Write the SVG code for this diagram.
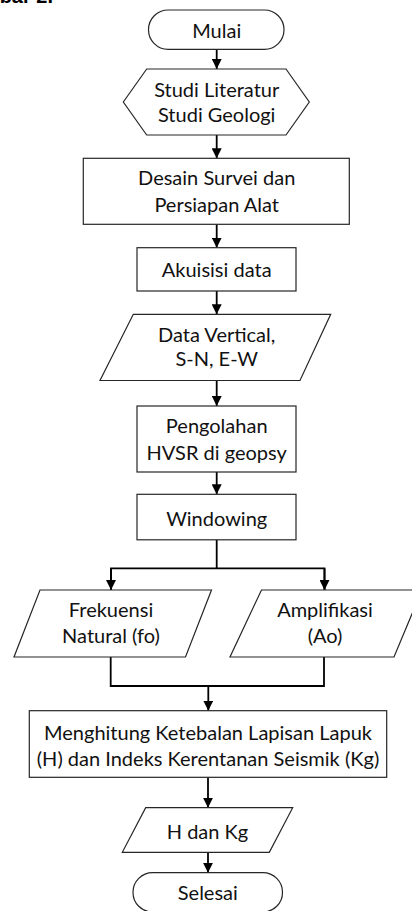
<svg xmlns="http://www.w3.org/2000/svg" width="412" height="911" viewBox="0 0 412 911">
<style>
.s{fill:#fff;stroke:#262626;stroke-width:1.2}
.t{font-family:Lato,"Liberation Sans",sans-serif;font-size:20px;fill:#111;text-anchor:middle}
.c{fill:none;stroke:#000;stroke-width:1.8}
</style>
<defs>
<marker id="ah" markerUnits="userSpaceOnUse" markerWidth="10" markerHeight="10" refX="10" refY="5" orient="auto" viewBox="0 0 10 10">
<path d="M0,0 L10,5 L0,10 z" fill="#000"/>
</marker>
</defs>
<rect width="412" height="911" fill="#fff"/>
<text x="53" y="2.5" style="font-family:'Liberation Sans',sans-serif;font-size:20px;font-weight:bold;text-anchor:end" fill="#000">Gambar 2.</text>

<g id="connectors">
<line class="c" x1="216.7" y1="49.5" x2="216.7" y2="69" marker-end="url(#ah)"/>
<line class="c" x1="216.7" y1="135" x2="216.7" y2="158.3" marker-end="url(#ah)"/>
<line class="c" x1="216.7" y1="224.3" x2="216.7" y2="247.7" marker-end="url(#ah)"/>
<line class="c" x1="216.7" y1="291" x2="216.7" y2="314.3" marker-end="url(#ah)"/>
<line class="c" x1="216.7" y1="380.5" x2="216.7" y2="406" marker-end="url(#ah)"/>
<line class="c" x1="216.7" y1="472" x2="216.7" y2="494.3" marker-end="url(#ah)"/>
<polyline class="c" points="216.7,540 216.7,568.3"/>
<polyline class="c" points="111,590 111,568.3 324.5,568.3 324.5,590"/>
<line class="c" x1="111" y1="568.3" x2="111" y2="590" marker-end="url(#ah)"/>
<line class="c" x1="324.5" y1="568.3" x2="324.5" y2="590" marker-end="url(#ah)"/>
<polyline class="c" points="110.7,657 110.7,686 324,686 324,657"/>
<line class="c" x1="208.3" y1="686" x2="208.3" y2="710.7" marker-end="url(#ah)"/>
<line class="c" x1="208" y1="777.3" x2="208" y2="807.7" marker-end="url(#ah)"/>
<line class="c" x1="208" y1="852.3" x2="208" y2="872.7" marker-end="url(#ah)"/>
</g>

<g id="mulai">
<rect class="s" x="148.5" y="10" width="135.5" height="39.3" rx="19.6"/>
<text class="t" x="216.7" y="38.3">Mulai</text>
</g>

<g id="studi">
<polygon class="s" points="123.3,102 146.7,69 286,69 309.3,102 286,135 146.7,135"/>
<text class="t" x="216.7" y="96.5">Studi Literatur</text>
<text class="t" x="216.7" y="122">Studi Geologi</text>
</g>

<g id="desain">
<rect class="s" x="83.3" y="158.3" width="266" height="66"/>
<text class="t" x="216.7" y="185">Desain Survei dan</text>
<text class="t" x="216.7" y="211.7">Persiapan Alat</text>
</g>

<g id="akuisisi">
<rect class="s" x="137" y="247.7" width="159" height="43.3"/>
<text class="t" x="216.7" y="277">Akuisisi data</text>
</g>

<g id="data">
<polygon class="s" points="133.3,314.3 330.7,314.3 300,380.5 100,380.5"/>
<text class="t" x="216.7" y="341.7">Data Vertical,</text>
<text class="t" x="216.7" y="366">S-N, E-W</text>
</g>

<g id="pengolahan">
<rect class="s" x="137" y="406" width="159" height="66"/>
<text class="t" x="216.7" y="433">Pengolahan</text>
<text class="t" x="216.7" y="460">HVSR di geopsy</text>
</g>

<g id="windowing">
<rect class="s" x="137" y="494.3" width="159" height="45.5"/>
<text class="t" x="216.7" y="526">Windowing</text>
</g>

<g id="frekuensi">
<polygon class="s" points="40,590 211.5,590 185.5,657 14,657"/>
<text class="t" x="111" y="617">Frekuensi</text>
<text class="t" x="111" y="643">Natural (fo)</text>
</g>

<g id="amplifikasi">
<polygon class="s" points="261.5,590 422,590 394,657 230,657"/>
<text class="t" x="325" y="617">Amplifikasi</text>
<text class="t" x="325" y="643">(Ao)</text>
</g>

<g id="menghitung">
<rect class="s" x="29.3" y="710.7" width="357.4" height="66.6"/>
<text class="t" x="208" y="740">Menghitung Ketebalan Lapisan Lapuk</text>
<text class="t" x="208" y="766">(H) dan Indeks Kerentanan Seismik (Kg)</text>
</g>

<g id="hdankg">
<polygon class="s" points="145.7,807.7 292.7,807.7 269.3,852.3 122.3,852.3"/>
<text class="t" x="207.5" y="839">H dan Kg</text>
</g>

<g id="selesai">
<rect class="s" x="133" y="872.7" width="149.5" height="39.3" rx="19.6"/>
<text class="t" x="207.8" y="899.5">Selesai</text>
</g>
</svg>
